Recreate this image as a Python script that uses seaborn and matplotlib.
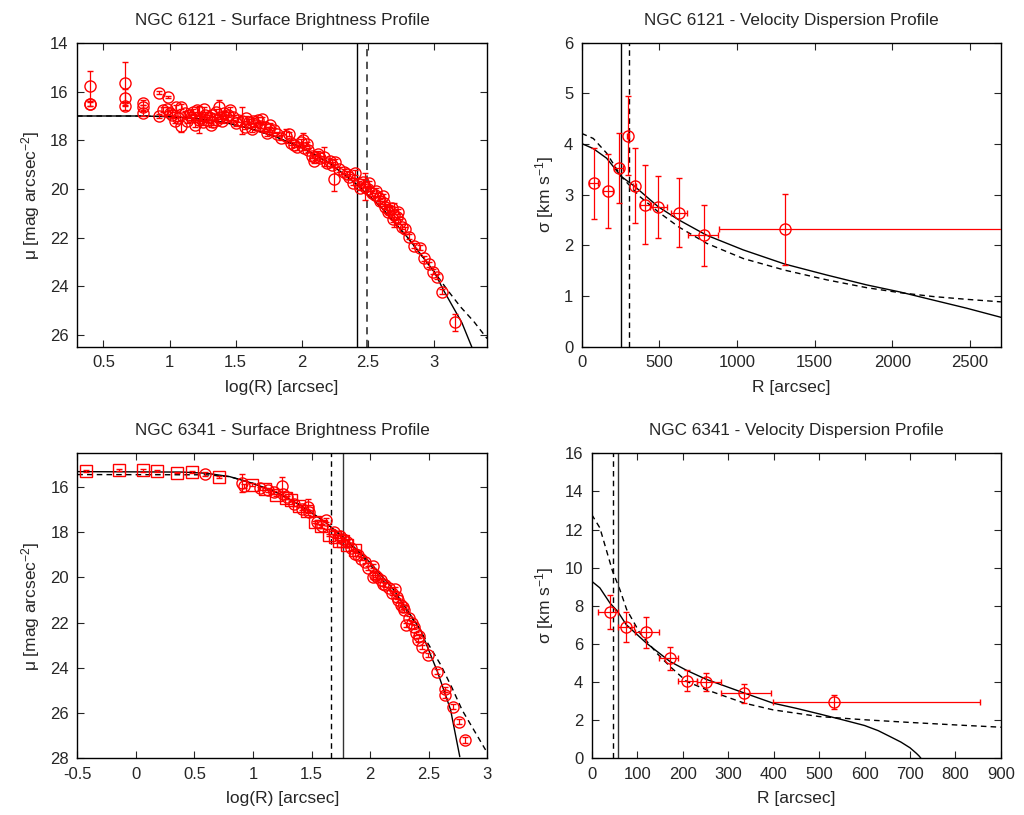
import matplotlib
matplotlib.use("Agg")
import matplotlib.pyplot as plt
import matplotlib.ticker as mticker
import seaborn as sns
import numpy as np

# ---------------- NGC 6121 surface brightness ----------------
sb1_x = [0.40, 0.40, 0.40, 0.66, 0.66, 0.66, 0.80, 0.80, 0.80, 0.92, 0.99,
         0.92, 0.95, 0.98, 1.00, 1.05, 1.06, 1.09, 1.09, 1.12, 1.16, 1.18, 1.21,
         1.22, 1.23, 1.26, 1.28, 1.31, 1.32, 1.35, 1.37, 1.38, 1.41, 1.43, 1.46,
         1.48, 1.52, 1.55, 1.57, 1.60, 1.62, 1.65, 1.67, 1.70, 1.72, 1.74, 1.76,
         1.79, 1.81, 1.88, 1.90, 1.94, 1.96, 1.99, 2.01, 2.04, 2.05, 2.08, 2.09,
         2.12, 2.14, 2.17, 2.19, 2.23, 2.24, 2.25, 2.32, 2.34, 2.39, 2.40, 2.43,
         2.46, 2.48, 2.51, 2.53, 2.56, 2.58, 2.61, 2.62, 2.63, 2.66, 2.68, 2.70,
         2.72, 2.73, 2.76, 2.81, 2.85, 2.89, 2.92, 2.96, 2.99, 3.02, 3.06, 3.16,
         1.02, 1.04, 1.13, 1.15, 1.19, 1.25, 1.27, 1.30, 1.33, 1.36, 1.40, 1.44,
         1.50, 1.58, 1.63, 1.68, 1.75, 1.84, 1.92, 2.02, 2.10, 2.21, 2.28, 2.36,
         2.44, 2.50, 2.55, 2.59, 2.65, 2.69, 2.74, 2.78]
sb1_mu = [15.77, 16.50, 16.52, 15.66, 16.25, 16.59, 16.45, 16.64, 16.89, 16.04, 16.23,
          17.00, 16.75, 16.70, 16.86, 16.64, 17.10, 16.62, 17.41, 16.89, 17.05, 16.82, 16.75,
          17.15, 17.10, 16.73, 17.16, 17.37, 16.96, 16.82, 16.64, 17.03, 16.89, 17.05, 16.75,
          17.05, 17.16, 17.20, 17.44, 17.23, 17.55, 17.37, 17.16, 17.14, 17.44, 17.71, 17.37,
          17.58, 17.74, 17.82, 17.74, 18.19, 18.29, 18.05, 17.99, 18.15, 18.40, 18.64, 18.84,
          18.56, 18.74, 18.67, 18.95, 19.01, 19.60, 18.88, 19.29, 19.38, 19.74, 19.33, 19.79,
          19.70, 19.90, 19.77, 20.18, 20.07, 20.38, 20.29, 20.59, 20.73, 20.86, 20.79, 21.07,
          21.14, 20.93, 21.55, 21.96, 22.34, 22.42, 22.85, 23.10, 23.40, 23.60, 24.22, 25.49,
          16.95, 17.20, 17.20, 16.95, 17.35, 17.25, 16.95, 17.05, 17.25, 17.15, 17.20, 16.95,
          17.30, 17.10, 17.20, 17.40, 17.55, 17.90, 18.10, 18.30, 18.70, 18.85, 19.20, 19.50,
          19.95, 20.00, 20.25, 20.50, 20.95, 21.25, 21.35, 21.65]
sb1_err = [0.60, 0.10, 0.08, 0.90, 0.35, 0.15, 0.10, 0.10, 0.10, 0.05, 0.05,
           0.10, 0.10, 0.08, 0.10, 0.10, 0.10, 0.10, 0.25, 0.10, 0.10, 0.10, 0.10,
           0.55, 0.10, 0.10, 0.10, 0.10, 0.10, 0.10, 0.30, 0.10, 0.10, 0.10, 0.10,
           0.10, 0.10, 0.55, 0.10, 0.10, 0.10, 0.10, 0.10, 0.10, 0.10, 0.10, 0.10,
           0.10, 0.10, 0.30, 0.10, 0.10, 0.10, 0.10, 0.30, 0.10, 0.10, 0.10, 0.10,
           0.10, 0.10, 0.40, 0.10, 0.10, 0.50, 0.10, 0.10, 0.10, 0.10, 0.10, 0.10,
           0.10, 0.55, 0.10, 0.10, 0.10, 0.10, 0.10, 0.10, 0.10, 0.10, 0.10, 0.50,
           0.10, 0.10, 0.10, 0.10, 0.10, 0.10, 0.10, 0.10, 0.10, 0.10, 0.10, 0.36,
           0.10, 0.10, 0.10, 0.10, 0.10, 0.10, 0.10, 0.10, 0.10, 0.10, 0.10, 0.10,
           0.10, 0.10, 0.10, 0.10, 0.10, 0.10, 0.10, 0.10, 0.10, 0.10, 0.10, 0.10,
           0.10, 0.10, 0.10, 0.10, 0.10, 0.10, 0.10, 0.10]
sb1_model_x = [0.30, 0.80, 1.00, 1.20, 1.40, 1.60, 1.80, 2.00, 2.20, 2.40, 2.60, 2.80,
               3.00, 3.075, 3.21, 3.285]
sb1_model_mu = [17.00, 17.00, 17.03, 17.10, 17.25, 17.50, 17.85, 18.30, 18.90, 19.75,
                20.75, 22.00, 23.40, 24.20, 25.50, 26.50]
sb1_alt_x = [0.30, 0.80, 1.00, 1.20, 1.40, 1.60, 1.80, 2.00, 2.20, 2.40, 2.60, 2.80,
             3.00, 3.10, 3.20, 3.30, 3.40]
sb1_alt_mu = [17.00, 17.00, 17.03, 17.10, 17.25, 17.50, 17.85, 18.30, 18.90, 19.75,
              20.75, 22.00, 23.40, 24.15, 24.85, 25.45, 26.15]
sb1_rc_solid = 2.414
sb1_rc_dashed = 2.494

# ---------------- NGC 6121 velocity dispersion ----------------
vd1_r = [77, 170, 238, 298, 343, 410, 494, 627, 790, 1309]
vd1_sig = [3.23, 3.07, 3.53, 4.16, 3.18, 2.80, 2.76, 2.64, 2.20, 2.32]
vd1_sig_err = [0.70, 0.73, 0.69, 0.78, 0.74, 0.78, 0.61, 0.68, 0.60, 0.70]
vd1_r_lo = [27, 30, 30, 8, 10, 35, 57, 53, 108, 427]
vd1_r_hi = [27, 30, 30, 8, 10, 35, 57, 53, 86, 1450]
vd1_model_r = [0, 75, 161, 255, 343, 494, 627, 805, 1041, 1309, 1578, 1835, 2050, 2264,
               2479, 2700]
vd1_model_sig = [4.01, 3.91, 3.72, 3.36, 3.16, 2.76, 2.50, 2.20, 1.91, 1.63, 1.415, 1.22,
                 1.08, 0.92, 0.76, 0.58]
vd1_alt_r = [0, 75, 161, 255, 376, 494, 627, 805, 1041, 1309, 1578, 1835, 2050, 2264,
             2479, 2700]
vd1_alt_sig = [4.21, 4.11, 3.82, 3.36, 2.96, 2.66, 2.36, 2.04, 1.74, 1.51, 1.32, 1.165,
               1.066, 0.99, 0.935, 0.885]
vd1_rc_solid = 255
vd1_rc_dashed = 307

# ---------------- NGC 6341 surface brightness ----------------
sb2_sq_x = [-0.43, -0.14, 0.06, 0.18, 0.35, 0.48, 0.71, 0.99, 1.10, 1.20, 1.28, 1.32,
            1.39, 1.46, 1.53, 1.58, 1.65, 1.70, 1.73, 1.77, 1.80, 1.87]
sb2_sq_mu = [15.29, 15.25, 15.28, 15.29, 15.37, 15.34, 15.56, 15.90, 16.10, 16.35, 16.50,
             16.60, 16.85, 17.05, 17.55, 17.75, 18.14, 18.20, 18.40, 18.40, 18.58, 18.80]
sb2_sq_err = [0.05, 0.05, 0.05, 0.05, 0.03, 0.03, 0.05, 0.05, 0.05, 0.05, 0.05, 0.05,
              0.05, 0.05, 0.05, 0.05, 0.05, 0.05, 0.05, 0.05, 0.05, 0.05]
sb2_ci_x = [0.59, 0.91, 0.92, 1.06, 1.13, 1.18, 1.25, 1.26, 1.29, 1.35, 1.42, 1.47, 1.48,
            1.55, 1.62, 1.59, 1.69, 1.74, 1.77, 1.80, 1.84, 1.87, 1.92, 1.96, 2.02, 2.02,
            2.04, 2.09, 2.13, 2.16, 2.21, 2.23, 2.26, 2.29, 2.31, 2.37, 2.39, 2.41, 2.44,
            2.49, 2.57, 2.64, 2.64, 2.71, 2.76, 2.81,
            1.90, 1.98, 2.06, 2.11, 2.19, 2.24, 2.28, 2.33, 2.36, 2.42]
sb2_ci_mu = [15.43, 15.82, 15.97, 16.07, 16.15, 16.25, 15.96, 16.30, 16.47, 16.75, 16.96,
             16.88, 17.10, 17.55, 17.47, 17.74, 17.99, 18.18, 18.31, 18.43, 18.72, 18.97,
             19.17, 19.31, 19.51, 19.98, 19.90, 20.12, 20.34, 20.49, 20.52, 20.86, 21.23,
             21.45, 22.11, 22.19, 22.48, 22.77, 23.07, 23.44, 24.17, 24.95, 25.20, 25.72,
             26.38, 27.19,
             19.00, 19.60, 20.00, 20.30, 20.70, 21.00, 21.30, 21.80, 22.00, 22.60]
sb2_ci_err = [0.10, 0.40, 0.10, 0.08, 0.08, 0.08, 0.40, 0.08, 0.08, 0.08, 0.08, 0.35, 0.08,
              0.08, 0.08, 0.08, 0.08, 0.08, 0.08, 0.08, 0.08, 0.08, 0.08, 0.08, 0.08, 0.08,
              0.08, 0.08, 0.08, 0.08, 0.08, 0.08, 0.08, 0.08, 0.08, 0.08, 0.08, 0.08, 0.08,
              0.10, 0.12, 0.12, 0.12, 0.12, 0.12, 0.12,
              0.08, 0.08, 0.08, 0.08, 0.08, 0.08, 0.08, 0.08, 0.08, 0.08]
sb2_model_x = [-0.50, 0.40, 0.60, 0.80, 1.00, 1.20, 1.40, 1.60, 1.80, 2.00, 2.20, 2.43,
               2.574, 2.686, 2.765]
sb2_model_mu = [15.33, 15.35, 15.40, 15.55, 15.85, 16.25, 16.80, 17.50, 18.35, 19.35,
                20.55, 22.33, 24.17, 25.85, 27.93]
sb2_alt_x = [-0.50, 0.60, 0.80, 1.00, 1.20, 1.40, 1.60, 1.80, 2.00, 2.20, 2.40, 2.60,
             2.70, 2.785, 2.885, 2.985]
sb2_alt_mu = [15.46, 15.47, 15.55, 15.85, 16.25, 16.80, 17.50, 18.38, 19.45, 20.72,
              22.12, 23.85, 24.90, 25.87, 26.75, 27.63]
sb2_rc_solid = 1.765
sb2_rc_dashed = 1.662

# ---------------- NGC 6341 velocity dispersion ----------------
vd2_r = [40, 76, 120, 172, 209, 251, 336, 533]
vd2_sig = [7.66, 6.90, 6.61, 5.24, 4.08, 4.00, 3.42, 2.94]
vd2_sig_err = [0.90, 0.80, 0.82, 0.60, 0.54, 0.49, 0.50, 0.37]
vd2_r_lo = [25, 17, 25, 25, 19, 19, 52, 134]
vd2_r_hi = [19, 18, 29, 18, 23, 33, 58, 322]
vd2_model_r = [0, 18, 40, 57, 76, 120, 172, 209, 251, 336, 399, 450, 500, 550, 600, 630,
               656, 680, 700, 714, 720, 724]
vd2_model_sig = [9.29, 8.94, 8.15, 7.71, 7.01, 6.05, 5.08, 4.61, 4.15, 3.42, 2.89, 2.62,
                 2.33, 2.03, 1.72, 1.45, 1.14, 0.85, 0.55, 0.26, 0.12, 0.0]
vd2_alt_r = [0, 18, 46, 62, 77, 106, 143, 172, 209, 253, 336, 399, 500, 600, 700, 800, 900]
vd2_alt_sig = [12.79, 12.09, 9.81, 8.85, 7.80, 6.57, 5.52, 4.82, 4.03, 3.59, 2.89, 2.54,
               2.19, 2.02, 1.88, 1.75, 1.63]
vd2_rc_solid = 57
vd2_rc_dashed = 46

titles = ["NGC 6121 - Surface Brightness Profile", "NGC 6121 - Velocity Dispersion Profile",
          "NGC 6341 - Surface Brightness Profile", "NGC 6341 - Velocity Dispersion Profile"]

# ---------------- style ----------------
sns.set_theme(style="ticks")
plt.rcParams['font.family'] = ['Liberation Sans', 'DejaVu Sans']
plt.rcParams['mathtext.fontset'] = 'custom'
plt.rcParams['mathtext.rm'] = 'Liberation Sans'
plt.rcParams['mathtext.it'] = 'Liberation Sans'
plt.rcParams['axes.unicode_minus'] = False

RED = '#ff0000'
DASH = (0, (4, 3))
fig = plt.figure(figsize=(10.24, 8.15), dpi=100)
axes = [
    fig.add_axes([0.0752, 0.5742, 0.4004, 0.3730]),
    fig.add_axes([0.5680, 0.5746, 0.4095, 0.3730]),
    fig.add_axes([0.0755, 0.0696, 0.4004, 0.3742]),
    fig.add_axes([0.5778, 0.0696, 0.3997, 0.3742]),
]


def style(ax, title, xlabel, ylabel):
    ax.set_title(title, fontsize=12.3, pad=13)
    ax.set_xlabel(xlabel, fontsize=12.5, labelpad=7)
    ax.set_ylabel(ylabel, fontsize=12.5, labelpad=6)
    ax.tick_params(direction='in', top=True, right=True, length=5, width=0.8,
                   labelsize=12, pad=6)
    for s in ax.spines.values():
        s.set_linewidth(1.0)
        s.set_color('black')
    ax.xaxis.set_major_formatter(mticker.FormatStrFormatter('%g'))
    ax.yaxis.set_major_formatter(mticker.FormatStrFormatter('%g'))


def curves(ax, x1, y1, x2, y2):
    sns.lineplot(x=x1, y=y1, ax=ax, color='black', lw=1.0, sort=False, estimator=None)
    sns.lineplot(x=x2, y=y2, ax=ax, color='black', lw=1.0, sort=False, estimator=None,
                 linestyle=DASH)


ebkw = dict(mfc='none', mec=RED, ecolor=RED, ms=8, mew=1.0, capsize=2.0,
            elinewidth=0.9, capthick=0.9, ls='none', zorder=3)

# Panel 1
ax = axes[0]
curves(ax, sb1_model_x, sb1_model_mu, sb1_alt_x, sb1_alt_mu)
ax.errorbar(sb1_x, sb1_mu, yerr=sb1_err, marker='o', **ebkw)
ax.axvline(sb1_rc_solid, color='black', lw=1.0)
ax.axvline(sb1_rc_dashed, color='#444444', lw=1.3, ls=DASH)
ax.set_xlim(0.3, 3.4)
ax.set_ylim(26.5, 14)
ax.set_xticks([0.5, 1, 1.5, 2, 2.5, 3])
ax.set_yticks([14, 16, 18, 20, 22, 24, 26])
style(ax, titles[0], 'log(R) [arcsec]', r'$\mu$ [mag arcsec$^{-2}$]')

# Panel 2
ax = axes[1]
curves(ax, vd1_model_r, vd1_model_sig, vd1_alt_r, vd1_alt_sig)
ax.errorbar(vd1_r, vd1_sig, yerr=vd1_sig_err, xerr=[vd1_r_lo, vd1_r_hi], marker='o', **ebkw)
ax.axvline(vd1_rc_solid, color='black', lw=1.0)
ax.axvline(vd1_rc_dashed, color='black', lw=1.0, ls=DASH)
ax.set_xlim(0, 2700)
ax.set_ylim(0, 6)
ax.set_xticks([0, 500, 1000, 1500, 2000, 2500])
ax.set_yticks([0, 1, 2, 3, 4, 5, 6])
style(ax, titles[1], 'R [arcsec]', r'$\sigma$ [km s$^{-1}$]')

# Panel 3
ax = axes[2]
curves(ax, sb2_model_x, sb2_model_mu, sb2_alt_x, sb2_alt_mu)
ax.errorbar(sb2_sq_x, sb2_sq_mu, yerr=sb2_sq_err, marker='s', **ebkw)
ax.errorbar(sb2_ci_x, sb2_ci_mu, yerr=sb2_ci_err, marker='o', **ebkw)
ax.axvline(sb2_rc_solid, color='#333333', lw=1.0)
ax.axvline(sb2_rc_dashed, color='black', lw=1.0, ls=DASH)
ax.set_xlim(-0.5, 3)
ax.set_ylim(28, 14.52)
ax.set_xticks([-0.5, 0, 0.5, 1, 1.5, 2, 2.5, 3])
ax.set_yticks([16, 18, 20, 22, 24, 26, 28])
style(ax, titles[2], 'log(R) [arcsec]', r'$\mu$ [mag arcsec$^{-2}$]')

# Panel 4
ax = axes[3]
curves(ax, vd2_model_r, vd2_model_sig, vd2_alt_r, vd2_alt_sig)
ax.errorbar(vd2_r, vd2_sig, yerr=vd2_sig_err, xerr=[vd2_r_lo, vd2_r_hi], marker='o', **ebkw)
ax.axvline(vd2_rc_solid, color='#333333', lw=1.0)
ax.axvline(vd2_rc_dashed, color='black', lw=1.0, ls=DASH)
ax.set_xlim(0, 900)
ax.set_ylim(0, 16)
ax.set_xticks(list(range(0, 1000, 100)))
ax.set_yticks(list(range(0, 18, 2)))
style(ax, titles[3], 'R [arcsec]', r'$\sigma$ [km s$^{-1}$]')

for a in axes:
    leg = a.get_legend()
    if leg is not None:
        leg.remove()

fig.savefig('out.png', dpi=100, facecolor='white')
